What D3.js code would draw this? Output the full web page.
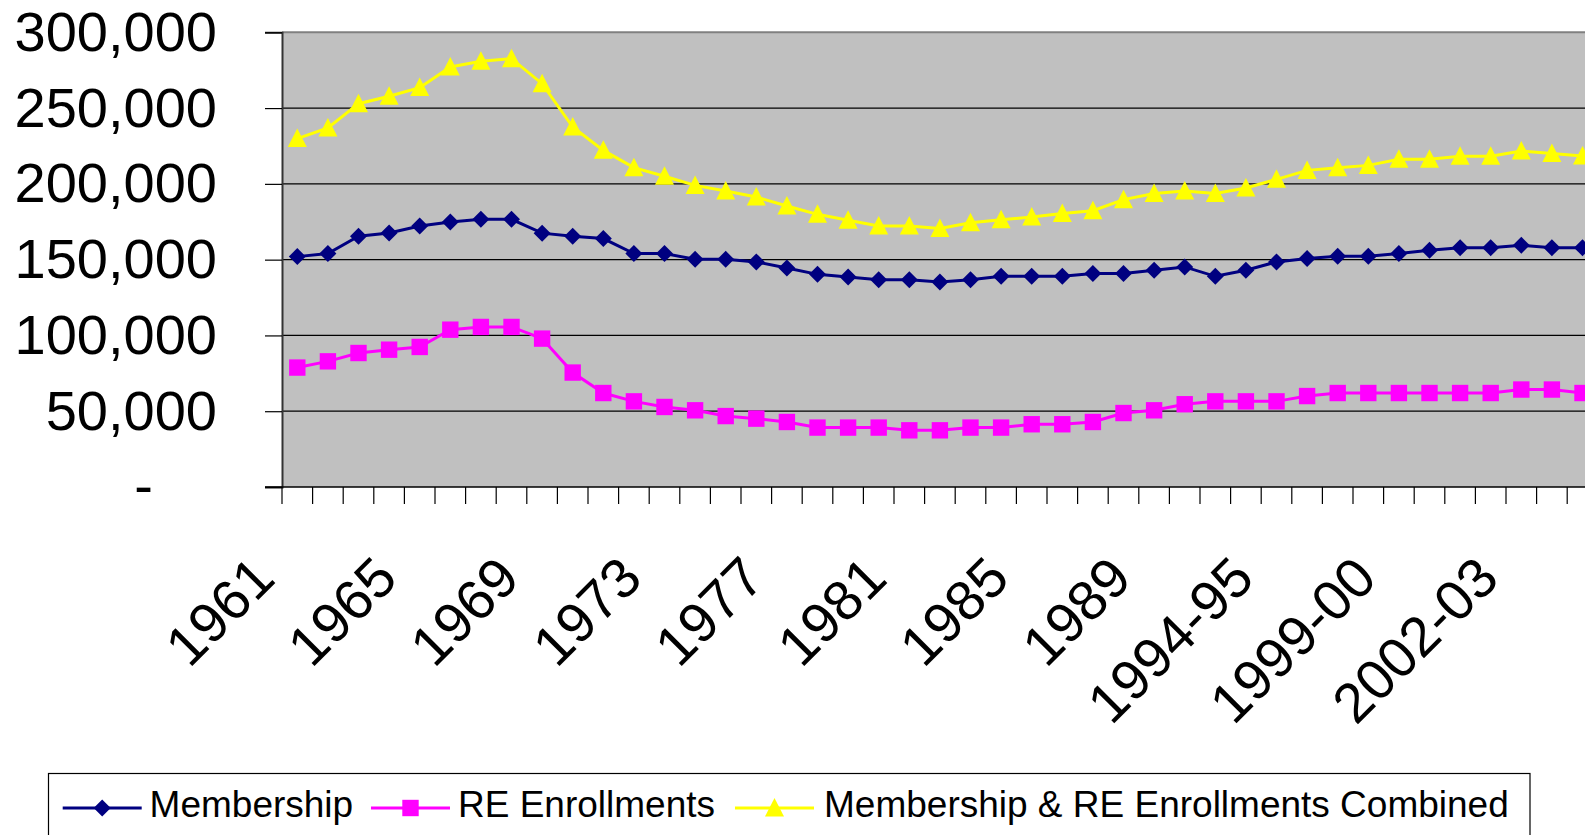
<!DOCTYPE html>
<html><head><meta charset="utf-8">
<script src="https://cdn.jsdelivr.net/npm/d3@7"></script>
<style>
body{margin:0;background:#fff;}
svg{display:block;font-family:"Liberation Sans",Arial,sans-serif;}
</style>
</head><body>
<svg id="chart" width="1585" height="835"></svg>
<script>
const categories = ["1961","1962","1963","1964","1965","1966","1967","1968","1969","1970",
  "1971","1972","1973","1974","1975","1976","1977","1978","1979","1980",
  "1981","1982","1983","1984","1985","1986","1987","1988","1989","1990",
  "1991-92","1992-93","1994-95","1995-96","1996-97","1997-98","1999-00","Fall 2000","2000-01","2001-02",
  "2002-03","2003-04","2004-05"];
const membership = [152000,154000,165400,167600,172200,174800,176600,176600,167500,165400,
  163900,154000,154000,150200,150200,148500,144500,140300,138600,136800,
  136800,135300,136800,139000,139000,139000,140800,140800,143000,145200,
  139000,143000,148500,150700,152200,152200,154000,156200,157900,157900,
  159500,157900,157900];
const reEnrollments = [78800,82900,88400,90600,92400,103800,105600,105600,97900,75500,
  62000,56500,52800,50600,46800,45100,42900,39200,39200,39200,
  37400,37400,39200,39200,41400,41400,42900,48800,50600,54600,
  56500,56500,56500,60000,62000,62000,62000,62000,62000,62000,
  64300,64300,62000];
const combined = [229900,236900,252900,257800,263500,277100,280900,282600,266100,237500,
  222100,210700,205000,199000,195300,191300,185400,179900,176000,172200,
  172200,170500,174400,176400,178100,180400,182300,189600,193600,195300,
  193600,197300,203000,208900,210700,212200,216200,216200,218200,218200,
  221700,220000,218400];
const yTicks = [0,50000,100000,150000,200000,250000,300000];
const seriesNames = ["Membership","RE Enrollments","Membership & RE Enrollments Combined"];
const seriesColors = ["#000080","#FF00FF","#FFFF00"];
const seriesShapes = ["diamond","square","triangle"];
const labelEvery = 4;

const svg = d3.select("#chart");
const plotLeft = 282, plotTop = 32.3, plotBottom = 487, bandW = 30.6;
const x = d3.scaleBand().domain(categories).range([plotLeft, plotLeft + bandW * categories.length]).padding(0);
const y = d3.scaleLinear().domain([0, 300000]).range([plotBottom, plotTop]);
const cx = c => x(c) + x.bandwidth() / 2;

// plot background
svg.append("rect").attr("x", plotLeft).attr("y", y(300000))
  .attr("width", x.range()[1] - plotLeft).attr("height", plotBottom - y(300000))
  .attr("fill", "#C0C0C0");

// gridlines
svg.append("g").selectAll("line").data(yTicks.filter(d => d > 0)).join("line")
  .attr("x1", plotLeft).attr("x2", x.range()[1])
  .attr("y1", d => y(d)).attr("y2", d => y(d))
  .attr("stroke", d => d === 300000 ? "#808080" : "#000")
  .attr("stroke-width", d => d === 300000 ? 2 : 1.2);

// y axis
const yAxis = svg.append("g").attr("transform", `translate(${plotLeft},0)`)
  .call(d3.axisLeft(y).tickValues(yTicks).tickSize(17).tickPadding(48)
    .tickFormat(d => d === 0 ? "-" : d3.format(",")(d)));
yAxis.select(".domain").attr("stroke", "#333").attr("stroke-width", 2);
yAxis.selectAll(".tick line").attr("stroke", "#000").attr("stroke-width", 1.2);
yAxis.selectAll(".tick text").attr("font-size", 56).attr("fill", "#000")
  .attr("font-family", '"Liberation Sans",Arial,sans-serif');
yAxis.selectAll(".tick text").filter(d => d === 0).attr("x", -129);

// x axis line and ticks at band boundaries
svg.append("line").attr("x1", plotLeft - 17).attr("x2", x.range()[1])
  .attr("y1", plotBottom).attr("y2", plotBottom).attr("stroke", "#000").attr("stroke-width", 1.5);
svg.append("g").selectAll("line").data(categories).join("line")
  .attr("x1", d => x(d)).attr("x2", d => x(d))
  .attr("y1", plotBottom).attr("y2", plotBottom + 17)
  .attr("stroke", "#000").attr("stroke-width", 1.2);

// x labels
svg.append("g").selectAll("text")
  .data(categories.filter((d, i) => i % labelEvery === 0)).join("text")
  .attr("transform", d => `translate(${cx(d) - 20},${plotBottom + 94}) rotate(-45)`)
  .attr("text-anchor", "end").attr("font-size", 56).attr("fill", "#000")
  .text(d => d);

// markers
const markerPath = {
  diamond: "M0,-8.5L8.5,0L0,8.5L-8.5,0Z",
  square: "M-8.2,-8.2H8.2V8.2H-8.2Z",
  triangle: "M0,-10L9.5,8.5L-9.5,8.5Z"
};
const series = [membership, reEnrollments, combined];
const line = d3.line().x((d, i) => cx(categories[i])).y(d => y(d));
series.forEach((vals, s) => {
  const g = svg.append("g");
  g.append("path").attr("d", line(vals)).attr("fill", "none")
    .attr("stroke", seriesColors[s]).attr("stroke-width", 3);
  g.selectAll("path.m").data(vals).join("path").attr("class", "m")
    .attr("d", markerPath[seriesShapes[s]])
    .attr("transform", (d, i) => `translate(${cx(categories[i])},${y(d)})`)
    .attr("fill", seriesColors[s]);
});

// legend
const lg = svg.append("g");
lg.append("rect").attr("x", 48.5).attr("y", 773.5).attr("width", 1481.5).attr("height", 120)
  .attr("fill", "#fff").attr("stroke", "#000").attr("stroke-width", 1.2);
const legendLineX = [62.7, 371, 735];
const legendTextX = [149.6, 458, 824];
seriesNames.forEach((n, s) => {
  lg.append("line").attr("x1", legendLineX[s]).attr("x2", legendLineX[s] + 79)
    .attr("y1", 808).attr("y2", 808).attr("stroke", seriesColors[s]).attr("stroke-width", 3);
  lg.append("path").attr("d", markerPath[seriesShapes[s]])
    .attr("transform", `translate(${legendLineX[s] + 39.5},808)`).attr("fill", seriesColors[s]);
  lg.append("text").attr("x", legendTextX[s]).attr("y", 817).attr("font-size", 37)
    .attr("fill", "#000").text(n);
});
</script>
</body></html>
